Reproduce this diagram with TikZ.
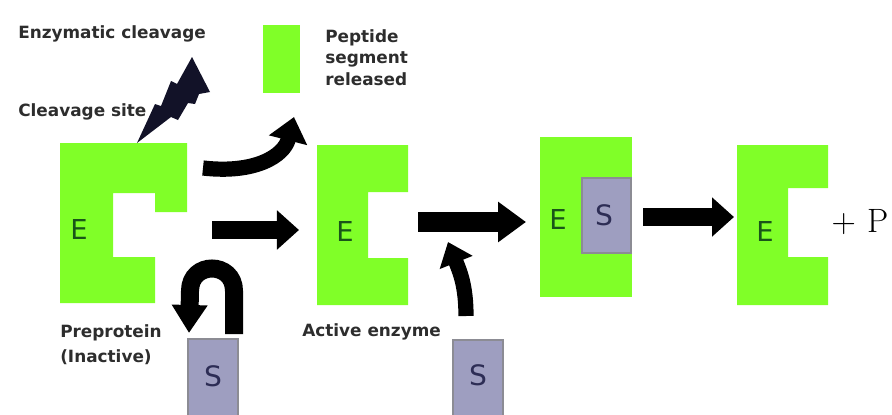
\documentclass[tikz,border=0pt]{standalone}
\usepackage{fontspec}
\setsansfont{DejaVu Sans}
\usetikzlibrary{arrows.meta}

\definecolor{enzgreen}{RGB}{128,255,40}
\definecolor{subfill}{RGB}{158,158,192}
\definecolor{subedge}{RGB}{140,140,148}
\definecolor{labelgray}{RGB}{45,45,45}
\definecolor{egreen}{RGB}{25,85,25}
\definecolor{sblue}{RGB}{45,45,85}
\definecolor{boltblue}{RGB}{18,18,40}

\tikzset{
  enzyme/.style={fill=enzgreen},
  substrate/.style={fill=subfill, draw=subedge, line width=1.6pt},
  tag/.style={font=\sffamily\bfseries\fontsize{12}{14}\selectfont, text=labelgray, anchor=west, inner sep=0pt, align=left},
  letterE/.style={font=\sffamily\fontsize{19.5}{19.5}\selectfont, text=egreen, inner sep=0pt},
  letterS/.style={font=\sffamily\fontsize{20}{20}\selectfont, text=sblue, inner sep=0pt},
  fatarrow/.style={line width=0.45cm, -{Triangle[length=0.55cm,width=0.95cm]}},
  bendarrow/.style={line width=0.38cm, -{Triangle[length=0.6cm,width=0.95cm]}}
}

\begin{document}
\begin{tikzpicture}[x=0.025cm,y=-0.025cm]

    \useasboundingbox (0,0) rectangle (892,414);

    % the four enzymes
    \fill[enzyme] (60,143) -- (187,143) -- (187,212) -- (155,212) -- (155,193) -- (113,193)
        -- (113,257) -- (155,257) -- (155,303) -- (60,303) -- cycle;
    \fill[enzyme] (317,145) -- (408,145) -- (408,192) -- (368,192) -- (368,258)
        -- (408,258) -- (408,305) -- (317,305) -- cycle;
    \fill[enzyme] (540,137) rectangle (632,297);
    \fill[enzyme] (737,145) -- (828,145) -- (828,188) -- (788,188) -- (788,257)
        -- (828,257) -- (828,305) -- (737,305) -- cycle;
    \fill[enzyme] (263,25) rectangle (300,93);

    % substrates
    \filldraw[substrate] (582,178) rectangle (631,253);
    \filldraw[substrate] (188,339) rectangle (238,416);
    \filldraw[substrate] (453,340) rectangle (503,416);

    \node[letterE] (Epre) at (79,230) {E};
    \node[letterE] (Eact) at (345,232) {E};
    \node[letterE] (Ecplx) at (558,220) {E};
    \node[letterE] (Efree) at (765,232) {E};
    \node[letterS] (Scplx) at (604,215) {S};
    \node[letterS] (Sone) at (213,376) {S};
    \node[letterS] (Stwo) at (478,375) {S};
    \node[inner sep=0pt, font=\fontsize{24}{24}\selectfont] (prod) at (860,222) {+\,\,P};

    % labels
    \node[tag] (cleave) at (18,34) {Enzymatic cleavage};
    \node[tag] (site) at (18,112) {Cleavage site};
    \node[tag, anchor=north west, font=\sffamily\bfseries\fontsize{12}{15.5}\selectfont] (pep) at (325,29) {Peptide\\segment\\released};
    \node[tag, anchor=north west, font=\sffamily\bfseries\fontsize{12}{18}\selectfont] (pre) at (60,324) {Preprotein\\(Inactive)};
    \node[tag] (act) at (302,332) {Active enzyme};

    % lightning bolt
    \fill[boltblue] (137,143) -- (155,104) -- (161,106) -- (171,81) -- (177,84) -- (192,57)
        -- (210,92) -- (199,94) -- (195,104) -- (188,103) -- (178,120) -- (171,117) -- cycle;

    % arrows
    \coordinate (a1) at (212,230);  \coordinate (b1) at (299,230);
    \coordinate (a2) at (418,222);  \coordinate (b2) at (526,222);
    \coordinate (a3) at (643,217);  \coordinate (b3) at (734,217);
    \draw[fatarrow] (a1) -- (b1);
    \draw[fatarrow, line width=0.5cm, -{Triangle[length=0.7cm,width=0.97cm]}] (a2) -- (b2);
    \draw[fatarrow] (a3) -- (b3);

    \coordinate (c1) at (203,168);  \coordinate (d1) at (294,117);
    \draw[bendarrow] (c1) .. controls (255,174) and (284,156) .. (d1);

    \coordinate (c2) at (234,334);  \coordinate (d2) at (189,333);
    \draw[bendarrow, line width=0.45cm, -{Triangle[length=0.7cm,width=0.85cm]}]
        (c2) -- (234,291) .. controls (234,261) and (190,261) .. (190,291) -- (d2);

    \coordinate (c3) at (466,316);  \coordinate (d3) at (448,242);
    \draw[bendarrow, -{Triangle[length=0.55cm,width=0.85cm]}]
        (c3) .. controls (466,286) and (460,272) .. (d3);

\end{tikzpicture}
\end{document}
